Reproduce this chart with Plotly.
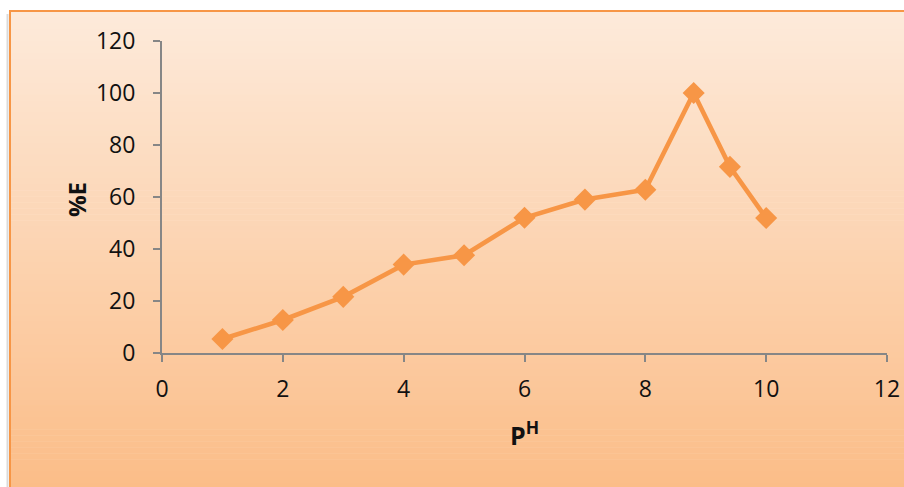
import plotly.graph_objects as go

# pH vs extraction percentage
ph = [1, 2, 3, 4, 5, 6, 7, 8, 8.8, 9.4, 10]
extraction = [5.4, 12.7, 21.6, 34.0, 37.6, 52.0, 59.0, 62.8, 100, 71.6, 51.9]

x_ticks = [0, 2, 4, 6, 8, 10, 12]
y_ticks = [0, 20, 40, 60, 80, 100, 120]

W, H = 904, 487
ML, MR, MT, MB = 162, 17, 41, 134
PW, PH = W - ML - MR, H - MT - MB


def px_to_paper_x(px):
    return (px - ML) / PW


def px_to_paper_y(py):
    return 1 - (py - MT) / PH


ORANGE = "#F79646"
FONT = "Open Sans"

fig = go.Figure()
fig.add_trace(go.Scatter(
    x=ph, y=extraction, mode="lines+markers",
    line=dict(color=ORANGE, width=4.6),
    marker=dict(symbol="diamond", size=17, color=ORANGE),
    cliponaxis=False, showlegend=False,
))

# Chart-area background: vertical peach gradient built from thin bands
shapes = []
top_px, bot_px, left_px = 11, H + 2, 10
c0 = (253, 234, 218)
c1 = (251, 189, 136)
n = 80
for i in range(n):
    t = i / (n - 1)
    col = tuple(round(c0[k] + (c1[k] - c0[k]) * t) for k in range(3))
    y0 = top_px + (bot_px - top_px) * i / n
    y1 = top_px + (bot_px - top_px) * (i + 1) / n + 0.6
    shapes.append(dict(
        type="rect", xref="paper", yref="paper", layer="below",
        x0=px_to_paper_x(left_px), x1=px_to_paper_x(W + 5),
        y0=px_to_paper_y(y1), y1=px_to_paper_y(y0),
        fillcolor="rgb(%d,%d,%d)" % col, line=dict(width=0),
    ))
# faint shadow on the left edge
shapes.append(dict(
    type="line", xref="paper", yref="paper", layer="below",
    x0=px_to_paper_x(7.5), x1=px_to_paper_x(7.5),
    y0=px_to_paper_y(H + 2), y1=px_to_paper_y(14),
    line=dict(color="rgba(150,150,150,0.35)", width=2),
))
# orange frame (top and left visible)
shapes.append(dict(
    type="rect", xref="paper", yref="paper", layer="below",
    x0=px_to_paper_x(left_px), x1=px_to_paper_x(W + 10),
    y0=px_to_paper_y(H + 10), y1=px_to_paper_y(top_px),
    fillcolor="rgba(0,0,0,0)", line=dict(color=ORANGE, width=2),
))

axis_common = dict(
    showgrid=False, zeroline=False, showline=True, automargin=False,
    linecolor="#868686", linewidth=2,
    ticks="outside", ticklen=7, tickwidth=2, tickcolor="#868686",
    tickfont=dict(family=FONT, size=23, color="#111111"),
)

fig.update_layout(
    width=W, height=H,
    margin=dict(l=ML, r=MR, t=MT, b=MB, autoexpand=False),
    paper_bgcolor="white", plot_bgcolor="rgba(0,0,0,0)",
    shapes=shapes,
    xaxis=dict(range=[0, 12], tickvals=x_ticks, ticktext=[str(v) for v in x_ticks],
               ticklabelstandoff=7, **axis_common),
    yaxis=dict(range=[0, 120], tickvals=y_ticks, ticktext=[str(v) for v in y_ticks],
               ticklabelstandoff=13, **axis_common),
    annotations=[
        dict(text="<b>%E</b>", xref="paper", yref="paper",
             x=px_to_paper_x(76), y=px_to_paper_y(200), textangle=-90,
             showarrow=False, font=dict(family=FONT, size=24, color="#111111"),
             xanchor="center", yanchor="middle"),
        dict(text="<b>P<sup>H</sup></b>", xref="paper", yref="paper",
             x=px_to_paper_x(524), y=px_to_paper_y(433),
             showarrow=False, font=dict(family=FONT, size=25, color="#111111"),
             xanchor="center", yanchor="middle"),
    ],
)

fig.write_html("out.html")
